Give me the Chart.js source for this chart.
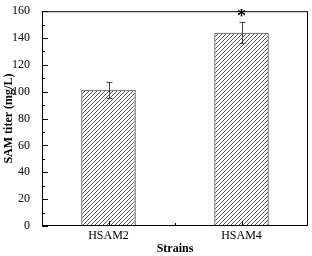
<!DOCTYPE html>
<html>
<head>
<meta charset="utf-8">
<script src="https://cdn.jsdelivr.net/npm/chart.js@4"></script>
<style>
  html, body { margin: 0; padding: 0; background: #fff; }
</style>
</head>
<body>
<canvas id="sam-chart" width="312" height="256"></canvas>
<script>
// ====================== data ======================
const strains = ["HSAM2", "HSAM4"]
const samTiter = [101.5, 144]
const samError = [6, 8]
const significance = ["", "*"]
const yTicks = [0, 20, 40, 60, 80, 100, 120, 140, 160]

const serif = "'Liberation Serif', 'DejaVu Serif', serif"

// hatch pattern "////"
function makeHatch() {
  const c = document.createElement("canvas")
  c.width = 4
  c.height = 4
  const g = c.getContext("2d")
  g.strokeStyle = "#4a4a4a"
  g.lineWidth = 0.9
  g.beginPath()
  g.moveTo(0, 4); g.lineTo(4, 0)
  g.moveTo(-1, 1); g.lineTo(1, -1)
  g.moveTo(3, 5); g.lineTo(5, 3)
  g.stroke()
  return g.createPattern(c, "repeat")
}

// frame, inward ticks, error bars, asterisk
const extras = {
  id: "extras",
  afterDatasetsDraw(chart) {
    const ctx = chart.ctx
    const a = chart.chartArea
    const x = chart.scales.x
    const y = chart.scales.y
    ctx.save()
    ctx.strokeStyle = "#000"
    ctx.lineWidth = 1
    ctx.strokeRect(a.left + 0.5, a.top + 0.5, a.right - a.left - 1, a.bottom - a.top - 1)

    // y ticks (major + minor), pointing inward
    ctx.beginPath()
    for (let v = 0; v <= 160; v += 10) {
      const py = Math.round(y.getPixelForValue(v)) + 0.5
      const len = v % 20 === 0 ? 6 : 3
      ctx.moveTo(a.left, py); ctx.lineTo(a.left + len, py)
    }
    // x ticks at categories and between them
    strains.forEach((s, i) => {
      const px = Math.round(x.getPixelForValue(i)) + 0.5
      ctx.moveTo(px, a.bottom); ctx.lineTo(px, a.bottom - 5)
    })
    const mid = Math.round((x.getPixelForValue(0) + x.getPixelForValue(1)) / 2) + 0.5
    ctx.moveTo(mid, a.bottom); ctx.lineTo(mid, a.bottom - 3)
    ctx.stroke()

    // error bars
    ctx.strokeStyle = "#444"
    ctx.beginPath()
    samTiter.forEach((v, i) => {
      const px = Math.round(x.getPixelForValue(i)) + 0.5
      const hi = y.getPixelForValue(v + samError[i])
      const lo = y.getPixelForValue(v - samError[i])
      ctx.moveTo(px, hi); ctx.lineTo(px, lo)
      ctx.moveTo(px - 3, Math.round(hi) + 0.5); ctx.lineTo(px + 3, Math.round(hi) + 0.5)
      ctx.moveTo(px - 3, Math.round(lo) + 0.5); ctx.lineTo(px + 3, Math.round(lo) + 0.5)
    })
    ctx.stroke()

    // significance marks
    ctx.fillStyle = "#000"
    ctx.font = "bold 18px " + serif
    ctx.textAlign = "center"
    ctx.textBaseline = "middle"
    significance.forEach((m, i) => {
      if (!m) return
      const px = x.getPixelForValue(i)
      const py = y.getPixelForValue(samTiter[i] + samError[i]) - 5
      ctx.fillText(m, px, py)
    })
    ctx.restore()
  }
}

const samChart = new Chart(document.getElementById("sam-chart"), {
  type: "bar",
  data: {
    labels: strains,
    datasets: [{
      label: "SAM titer",
      data: samTiter,
      backgroundColor: makeHatch(),
      borderColor: "#555",
      borderWidth: 1,
      categoryPercentage: 1,
      barPercentage: 0.41
    }]
  },
  options: {
    responsive: false,
    animation: false,
    devicePixelRatio: 1,
    layout: { padding: { left: 0, top: 7, right: 4, bottom: 0 } },
    plugins: { legend: { display: false }, tooltip: { enabled: false } },
    scales: {
      x: {
        grid: { display: false, drawTicks: false },
        border: { display: false },
        ticks: { color: "#000", font: { family: serif, size: 12 }, padding: 3 },
        title: { display: true, text: "Strains", color: "#000", font: { family: serif, size: 12, weight: "bold" }, padding: 0 },
        afterFit(s) { s.height = 30 }
      },
      y: {
        min: 0,
        max: 160,
        afterBuildTicks(s) { s.ticks = yTicks.map(v => ({ value: v })) },
        grid: { display: false },
        border: { display: false },
        ticks: { color: "#000", font: { family: serif, size: 12 }, padding: 4, autoSkip: false },
        title: { display: true, text: "SAM titer (mg/L)", color: "#000", font: { family: serif, size: 12, weight: "bold" }, padding: { top: 2, bottom: 0 } },
        afterFit(s) { s.width = 42 }
      }
    }
  },
  plugins: [extras]
})
</script>
</body>
</html>
